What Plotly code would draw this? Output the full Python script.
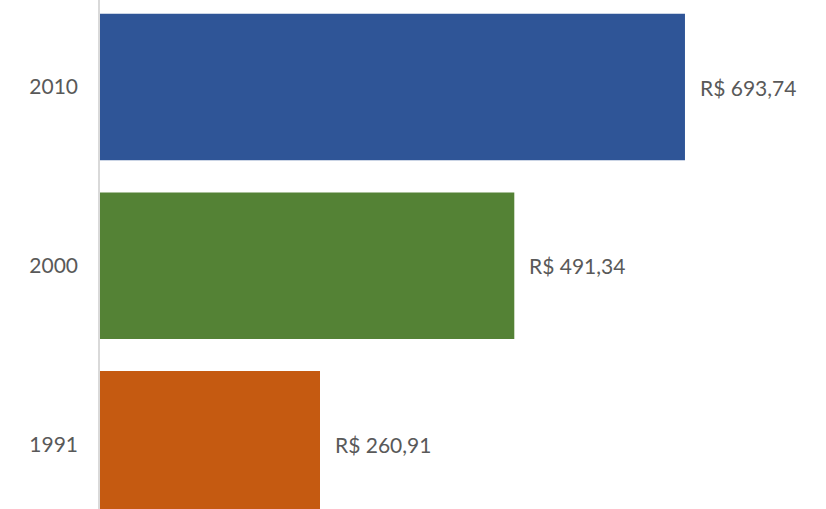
import plotly.graph_objects as go

years = ["1991", "2000", "2010"]
values = [260.91, 491.34, 693.74]
labels = ["R$ 260,91", "R$ 491,34", "R$ 693,74"]
colors = ["#C55A11", "#548235", "#2F5597"]

fig = go.Figure()
fig.add_trace(go.Bar(
    x=values, y=years, orientation="h",
    marker=dict(color=colors, line=dict(width=0)),
    hoverinfo="skip",
))
# category axis: annotation y uses category serial index
for i, (v, t) in enumerate(zip(values, labels)):
    fig.add_annotation(x=v, y=i, xref="x", yref="y", text=t, showarrow=False,
                       xanchor="left", yanchor="middle", xshift=13,
                       font=dict(family="Lato", size=21, color="#595959"))

fig.update_layout(
    width=826, height=509,
    margin=dict(l=100, r=0, t=0, b=0),
    paper_bgcolor="white", plot_bgcolor="white",
    bargap=0.18, showlegend=False,
    xaxis=dict(range=[0, 861], showticklabels=False, showline=False,
               showgrid=False, zeroline=False, ticks=""),
    yaxis=dict(type="category", categoryorder="array", categoryarray=years,
               range=[-0.362, 2.487], showline=True, linecolor="#D9D9D9", linewidth=1.5,
               showgrid=False, zeroline=False, ticks="", ticklabelstandoff=16,
               tickfont=dict(family="Lato", size=21, color="#595959")),
)
fig.write_html("out.html", config={"displayModeBar": False},
               post_script="document.body.style.margin='0';")
